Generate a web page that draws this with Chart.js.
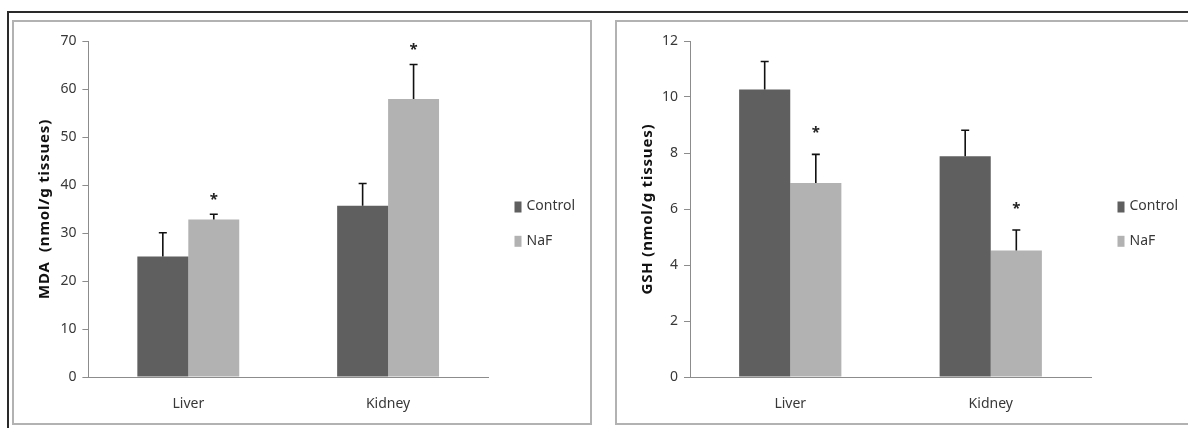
<!DOCTYPE html>
<html>
<head>
<meta charset="utf-8">
<script src="https://cdn.jsdelivr.net/npm/chart.js@4.4.0/dist/chart.umd.min.js"></script>
<style>
  html, body { margin: 0; padding: 0; background: #fff; }
  body { width: 1188px; height: 428px; position: relative; overflow: hidden; }
  .outer { position: absolute; left: 7px; top: 11px; width: 1200px; height: 430px;
           border-top: 2px solid #2a2a2a; border-left: 2px solid #2a2a2a; }
  .panel { position: absolute; border: 2px solid #b2b2b2; box-sizing: border-box; }
  #p1 { left: 12px; top: 20px; width: 580px; height: 405px; }
  #p2 { left: 615px; top: 20px; width: 600px; height: 405px; }
  .wrap { position: absolute; }
  #w1 { left: 14px; top: 22px; width: 576px; height: 401px; }
  #w2 { left: 617px; top: 22px; width: 571px; height: 401px; }
</style>
</head>
<body>
<div class="outer"></div>
<div class="panel" id="p1"></div>
<div class="panel" id="p2"></div>
<div class="wrap" id="w1"><canvas id="c1" width="576" height="401"></canvas></div>
<div class="wrap" id="w2"><canvas id="c2" width="571" height="401"></canvas></div>
<script>
// ---- data ----
const categories = ['Liver', 'Kidney'];
const seriesNames = ['Control', 'NaF'];

const mdaControl = [25.1, 35.7];
const mdaControlSD = [4.95, 4.6];
const mdaNaF = [32.8, 57.9];
const mdaNaFSD = [1.1, 7.2];
const mdaNaFSig = [true, true];

const gshControl = [10.27, 7.88];
const gshControlSD = [1.0, 0.93];
const gshNaF = [6.93, 4.52];
const gshNaFSD = [1.02, 0.73];
const gshNaFSig = [true, true];

const mdaTicks = { min: 0, max: 70, step: 10 };
const gshTicks = { min: 0, max: 12, step: 2 };

// ---- styles ----
const DARK = '#5f5f5f';
const LIGHT = '#b2b2b2';
const TXT = '#383838';
const FONT = "'Noto Sans', 'DejaVu Sans', sans-serif";

// Error bars + significance stars
const errorBarPlugin = {
  id: 'errorBars',
  afterDatasetsDraw(chart, args, opts) {
    const ctx = chart.ctx;
    const y = chart.scales.y;
    ctx.save();
    chart.data.datasets.forEach((ds, di) => {
      const meta = chart.getDatasetMeta(di);
      meta.data.forEach((bar, i) => {
        const v = ds.data[i];
        const sd = ds.sd ? ds.sd[i] : 0;
        const yTop = y.getPixelForValue(v + sd);
        const yBar = y.getPixelForValue(v);
        ctx.strokeStyle = '#111';
        ctx.lineWidth = 1.6;
        ctx.beginPath();
        ctx.moveTo(bar.x, yBar);
        ctx.lineTo(bar.x, yTop);
        ctx.moveTo(bar.x - 4, yTop);
        ctx.lineTo(bar.x + 4, yTop);
        ctx.stroke();
        if (ds.sig && ds.sig[i]) {
          ctx.fillStyle = '#222';
          ctx.font = 'bold 15px ' + FONT;
          ctx.textAlign = 'center';
          ctx.textBaseline = 'alphabetic';
          const cy = yTop - opts.starOffset;
          ctx.fillText('*', bar.x, cy + 8.5);
        }
      });
    });
    ctx.restore();
  }
};

// Legend drawn from dataset labels/colours
const sideLegendPlugin = {
  id: 'sideLegend',
  afterDraw(chart, args, opts) {
    const ctx = chart.ctx;
    ctx.save();
    chart.data.datasets.forEach((ds, i) => {
      const yc = opts.y + i * opts.gap;
      ctx.fillStyle = ds.backgroundColor;
      ctx.fillRect(opts.x, yc - 5, 7, 11);
      ctx.fillStyle = TXT;
      ctx.font = '14px ' + FONT;
      ctx.textAlign = 'left';
      ctx.textBaseline = 'middle';
      ctx.fillText(ds.label, opts.x + 12, yc);
    });
    ctx.restore();
  }
};

function spacedTitle(s) {
  if (s._spacedTitle) return;
  const orig = s.drawTitle.bind(s);
  s.drawTitle = function () {
    const ctx = this.ctx;
    ctx.save();
    if ('letterSpacing' in ctx) ctx.letterSpacing = '0.8px';
    orig();
    ctx.restore();
  };
  s._spacedTitle = true;
}

function makeChart(id, ctrl, ctrlSD, naf, nafSD, nafSig, ticks, title, yWidth, padRight, starOffset) {
  return new Chart(document.getElementById(id), {
    type: 'bar',
    data: {
      labels: categories,
      datasets: [
        { label: seriesNames[0], data: ctrl, sd: ctrlSD, backgroundColor: DARK,
          categoryPercentage: 0.51, barPercentage: 1.0 },
        { label: seriesNames[1], data: naf, sd: nafSD, sig: nafSig, backgroundColor: LIGHT,
          categoryPercentage: 0.51, barPercentage: 1.0 }
      ]
    },
    options: {
      responsive: false,
      animation: false,
      devicePixelRatio: 1,
      layout: { padding: { top: 19, right: padRight, left: 0, bottom: 0 } },
      plugins: {
        legend: { display: false },
        tooltip: { enabled: false },
        errorBars: { starOffset: starOffset },
        sideLegend: { x: 500.5, y: 184.5, gap: 34.3 }
      },
      scales: {
        x: {
          grid: { display: false, drawTicks: false },
          border: { display: true, color: '#8c8c8c', width: 1 },
          ticks: { color: TXT, font: { family: FONT, size: 14 }, padding: 19 },
          afterFit: s => { s.height = 46; }
        },
        y: {
          min: ticks.min, max: ticks.max,
          grid: { drawOnChartArea: false, drawTicks: true, tickLength: 6, color: '#8c8c8c' },
          border: { display: true, color: '#8c8c8c', width: 1 },
          ticks: { stepSize: ticks.step, color: TXT, font: { family: FONT, size: 14 }, padding: 6 },
          title: { display: true, text: title, color: '#111',
                   font: { family: FONT, size: 15, weight: 'bold' },
                   padding: { top: 22, bottom: 0 } },
          afterFit: s => { s.width = yWidth; spacedTitle(s); }
        }
      }
    },
    plugins: [errorBarPlugin, sideLegendPlugin]
  });
}

makeChart('c1', mdaControl, mdaControlSD, mdaNaF, mdaNaFSD, mdaNaFSig, mdaTicks,
          'MDA  (nmol/g tissues)', 74.4, 102, 19);
makeChart('c2', gshControl, gshControlSD, gshNaF, gshNaFSD, gshNaFSig, gshTicks,
          'GSH (nmol/g tissues)', 73, 97, 26);
</script>
</body>
</html>
